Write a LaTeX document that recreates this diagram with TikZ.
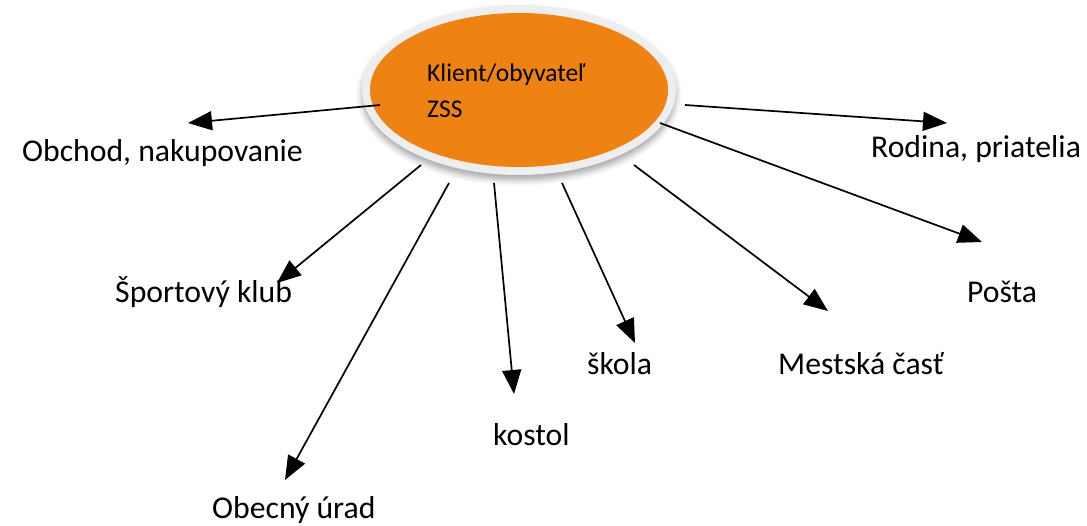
\documentclass[tikz,border=0pt]{standalone}
\usepackage{fontspec}
\setmainfont{Carlito}
\usetikzlibrary{arrows.meta,shapes.geometric,shadows.blur}
\definecolor{orng}{RGB}{238,130,18}
\definecolor{ring}{RGB}{238,238,238}
\tikzset{
  lbl/.style={anchor=base west,inner sep=0pt,font=\fontsize{31.7}{32}\selectfont},
  intext/.style={anchor=base west,inner sep=0pt,font=\fontsize{25.5}{26}\selectfont},
  arr/.style={line width=1.7pt,-{Triangle[length=24pt,width=19pt]}},
}
\begin{document}
\begin{tikzpicture}[x=1pt,y=-1pt]
\useasboundingbox (0,0) rectangle (1087,526);
% central ellipse
\node[ellipse,minimum width=314pt,minimum height=170pt,fill=ring,inner sep=0pt,
  blur shadow={shadow xshift=0pt,shadow yshift=-5pt,shadow blur radius=6pt,shadow opacity=35}] (r) at (519,90) {};
\node[ellipse,minimum width=298pt,minimum height=154pt,fill=orng,inner sep=0pt] (c) at (519,90) {};
\node[intext] (t1) at (427,82) {Klient/obyvateľ};
\node[intext] (t2) at (427,118) {ZSS};
% labels
\node[lbl] (obchod) at (22,162) {Obchod, nakupovanie};
\node[lbl] (rodina) at (871,158) {Rodina, priatelia};
\node[lbl] (sport) at (115,303) {Športový klub};
\node[lbl] (posta) at (967,303) {Pošta};
\node[lbl] (skola) at (587,375) {škola};
\node[lbl] (mestska) at (778,375) {Mestská časť};
\node[lbl] (kostol) at (493,445) {kostol};
\node[lbl] (obecny) at (212,518) {Obecný úrad};
% start points on the ellipse
\coordinate (s1) at ([shift={(-139,15)}]c.center);
\coordinate (s2) at ([shift={(166,15)}]c.center);
\coordinate (s3) at ([shift={(141,33)}]c.center);
\coordinate (s4) at ([shift={(115,75)}]c.center);
\coordinate (s5) at ([shift={(43,93)}]c.center);
\coordinate (s6) at ([shift={(-25,93)}]c.center);
\coordinate (s7) at ([shift={(-70,93)}]c.center);
\coordinate (s8) at ([shift={(-98,75)}]c.center);
% arrow tips
\coordinate (e1) at (188,123);
\coordinate (e2) at (947,123);
\coordinate (e3) at (982,242);
\coordinate (e4) at (828,311);
\coordinate (e5) at (635,343);
\coordinate (e6) at (514,394);
\coordinate (e7) at (285,480);
\coordinate (e8) at (277,283);
\draw[arr] (s1) -- (e1);
\draw[arr] (s2) -- (e2);
\draw[arr] (s3) -- (e3);
\draw[arr] (s4) -- (e4);
\draw[arr] (s5) -- (e5);
\draw[arr] (s6) -- (e6);
\draw[arr] (s7) -- (e7);
\draw[arr] (s8) -- (e8);
\end{tikzpicture}
\end{document}
